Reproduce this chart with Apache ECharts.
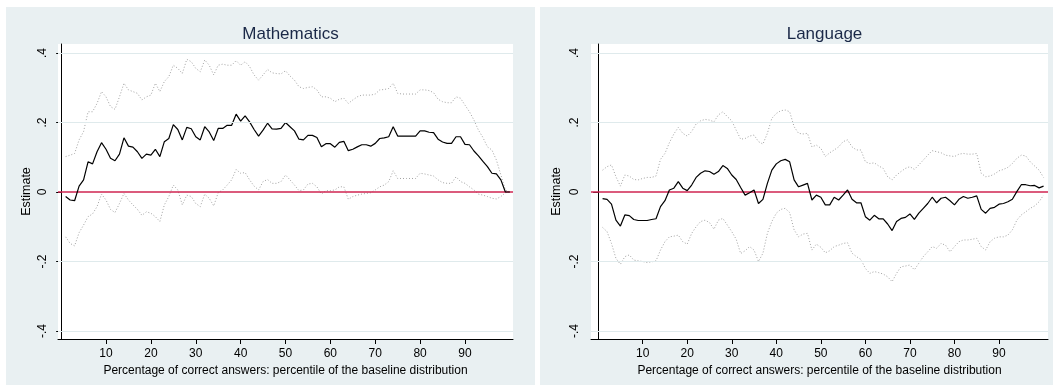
<!DOCTYPE html>
<html>
<head>
<meta charset="utf-8">
<script src="https://cdn.jsdelivr.net/npm/echarts@6/dist/echarts.min.js"></script>
<style>
  html, body { margin: 0; padding: 0; background: #ffffff; }
  #chart { width: 1060px; height: 387px; }
</style>
</head>
<body>
<div id="chart"></div>
<script>
// Percentile of the baseline distribution (x positions of every estimate)
const percentiles = [
  1, 2, 3, 4, 5, 6, 7, 8, 9, 10,
  11, 12, 13, 14, 15, 16, 17, 18, 19, 20,
  21, 22, 23, 24, 25, 26, 27, 28, 29, 30,
  31, 32, 33, 34, 35, 36, 37, 38, 39, 40,
  41, 42, 43, 44, 45, 46, 47, 48, 49, 50,
  51, 52, 53, 54, 55, 56, 57, 58, 59, 60,
  61, 62, 63, 64, 65, 66, 67, 68, 69, 70,
  71, 72, 73, 74, 75, 76, 77, 78, 79, 80,
  81, 82, 83, 84, 85, 86, 87, 88, 89, 90,
  91, 92, 93, 94, 95, 96, 97, 98, 99, 100
];
const xTicks = [10, 20, 30, 40, 50, 60, 70, 80, 90];
const yTicks = [-0.4, -0.2, 0, 0.2, 0.4];

// Mathematics: point estimate and confidence bounds
const mathEst = [
  -0.013, -0.023, -0.025, 0.017, 0.035, 0.087, 0.081, 0.116, 0.142, 0.123,
  0.097, 0.090, 0.109, 0.156, 0.132, 0.129, 0.116, 0.097, 0.109, 0.106,
  0.123, 0.102, 0.145, 0.154, 0.194, 0.180, 0.150, 0.186, 0.182, 0.159,
  0.150, 0.188, 0.173, 0.148, 0.183, 0.183, 0.192, 0.192, 0.224, 0.204,
  0.219, 0.202, 0.180, 0.161, 0.178, 0.198, 0.182, 0.181, 0.183, 0.200,
  0.188, 0.176, 0.152, 0.150, 0.163, 0.163, 0.157, 0.130, 0.139, 0.139,
  0.129, 0.143, 0.146, 0.119, 0.123, 0.130, 0.136, 0.136, 0.132, 0.140,
  0.154, 0.156, 0.159, 0.188, 0.161, 0.161, 0.161, 0.161, 0.161, 0.176,
  0.176, 0.172, 0.171, 0.152, 0.144, 0.140, 0.140, 0.159, 0.159, 0.137,
  0.136, 0.118, 0.104, 0.088, 0.073, 0.054, 0.052, 0.035, 0.000, 0.000
];
const mathHi = [
  0.102, 0.106, 0.111, 0.150, 0.174, 0.231, 0.231, 0.255, 0.289, 0.274,
  0.246, 0.238, 0.274, 0.313, 0.294, 0.289, 0.284, 0.265, 0.274, 0.279,
  0.313, 0.289, 0.318, 0.332, 0.365, 0.356, 0.341, 0.382, 0.375, 0.356,
  0.346, 0.380, 0.365, 0.337, 0.365, 0.368, 0.365, 0.365, 0.378, 0.365,
  0.375, 0.361, 0.337, 0.322, 0.337, 0.353, 0.343, 0.341, 0.340, 0.349,
  0.334, 0.322, 0.303, 0.298, 0.301, 0.303, 0.294, 0.274, 0.274, 0.270,
  0.260, 0.267, 0.270, 0.255, 0.265, 0.274, 0.279, 0.279, 0.279, 0.282,
  0.294, 0.295, 0.298, 0.313, 0.284, 0.282, 0.282, 0.282, 0.282, 0.294,
  0.294, 0.292, 0.286, 0.267, 0.260, 0.257, 0.257, 0.274, 0.270, 0.250,
  0.231, 0.207, 0.178, 0.157, 0.130, 0.121, 0.092, 0.049, 0.006, 0.000
];
const mathLo = [
  -0.129, -0.148, -0.155, -0.117, -0.095, -0.071, -0.063, -0.042, -0.006, -0.023,
  -0.050, -0.059, -0.033, -0.004, -0.023, -0.037, -0.050, -0.067, -0.057, -0.061,
  -0.071, -0.085, -0.037, -0.013, 0.020, 0.006, -0.037, -0.009, -0.013, -0.033,
  -0.042, -0.006, -0.018, -0.040, -0.002, 0.006, 0.020, 0.035, 0.065, 0.054,
  0.056, 0.035, 0.017, 0.006, 0.030, 0.036, 0.025, 0.025, 0.030, 0.049,
  0.035, 0.020, 0.004, 0.006, 0.023, 0.025, 0.015, -0.006, 0.004, 0.004,
  0.006, 0.015, 0.015, -0.021, -0.013, -0.009, -0.006, -0.004, -0.002, 0.006,
  0.015, 0.020, 0.030, 0.061, 0.039, 0.039, 0.039, 0.039, 0.039, 0.054,
  0.052, 0.049, 0.046, 0.035, 0.027, 0.025, 0.025, 0.044, 0.030, 0.025,
  0.015, 0.006, -0.006, -0.009, -0.013, -0.018, -0.020, -0.013, -0.002, 0.000
];

// Language: point estimate and confidence bounds
const langEst = [
  -0.019, -0.021, -0.035, -0.081, -0.098, -0.066, -0.068, -0.079, -0.082, -0.082,
  -0.082, -0.079, -0.077, -0.042, -0.025, 0.006, 0.011, 0.030, 0.011, 0.004,
  0.020, 0.042, 0.054, 0.061, 0.059, 0.051, 0.059, 0.076, 0.068, 0.049,
  0.036, 0.013, -0.009, -0.002, 0.006, -0.033, -0.021, 0.025, 0.063, 0.081,
  0.090, 0.094, 0.087, 0.035, 0.015, 0.020, 0.025, -0.023, -0.009, -0.015,
  -0.037, -0.037, -0.015, -0.023, -0.009, 0.006, -0.021, -0.031, -0.031, -0.071,
  -0.081, -0.067, -0.077, -0.077, -0.092, -0.111, -0.085, -0.076, -0.073, -0.063,
  -0.079, -0.061, -0.047, -0.033, -0.015, -0.031, -0.018, -0.015, -0.025, -0.037,
  -0.021, -0.013, -0.018, -0.015, -0.011, -0.050, -0.061, -0.047, -0.044, -0.035,
  -0.033, -0.028, -0.021, 0.001, 0.021, 0.021, 0.018, 0.019, 0.012, 0.017
];
const langHi = [
  0.063, 0.073, 0.078, 0.044, 0.017, 0.049, 0.046, 0.036, 0.035, 0.039,
  0.042, 0.042, 0.046, 0.094, 0.111, 0.142, 0.167, 0.186, 0.169, 0.161,
  0.174, 0.196, 0.205, 0.209, 0.207, 0.202, 0.222, 0.231, 0.217, 0.205,
  0.178, 0.152, 0.154, 0.161, 0.164, 0.145, 0.138, 0.169, 0.212, 0.226,
  0.234, 0.236, 0.231, 0.188, 0.169, 0.167, 0.169, 0.130, 0.135, 0.126,
  0.102, 0.113, 0.121, 0.130, 0.145, 0.150, 0.130, 0.121, 0.121, 0.087,
  0.082, 0.084, 0.075, 0.068, 0.044, 0.035, 0.049, 0.059, 0.068, 0.073,
  0.065, 0.078, 0.092, 0.106, 0.119, 0.116, 0.113, 0.106, 0.104, 0.102,
  0.109, 0.111, 0.109, 0.109, 0.111, 0.054, 0.044, 0.046, 0.052, 0.061,
  0.065, 0.071, 0.082, 0.097, 0.106, 0.104, 0.087, 0.075, 0.063, 0.042
];
const langLo = [
  -0.102, -0.114, -0.148, -0.191, -0.208, -0.186, -0.181, -0.196, -0.198, -0.200,
  -0.203, -0.201, -0.198, -0.167, -0.143, -0.129, -0.127, -0.124, -0.143, -0.150,
  -0.119, -0.100, -0.085, -0.081, -0.088, -0.107, -0.081, -0.076, -0.095, -0.114,
  -0.136, -0.177, -0.169, -0.157, -0.167, -0.200, -0.176, -0.119, -0.085, -0.061,
  -0.050, -0.047, -0.059, -0.109, -0.129, -0.121, -0.119, -0.167, -0.150, -0.159,
  -0.175, -0.169, -0.157, -0.153, -0.148, -0.146, -0.176, -0.186, -0.194, -0.220,
  -0.234, -0.229, -0.232, -0.236, -0.244, -0.258, -0.234, -0.215, -0.213, -0.210,
  -0.224, -0.205, -0.186, -0.172, -0.157, -0.162, -0.148, -0.153, -0.172, -0.157,
  -0.143, -0.138, -0.138, -0.136, -0.133, -0.157, -0.167, -0.143, -0.133, -0.129,
  -0.129, -0.124, -0.109, -0.081, -0.066, -0.057, -0.047, -0.040, -0.028, -0.009
];

const panelTitles = ['Mathematics', 'Language'];
const panelData = [
  { est: mathEst, lo: mathLo, hi: mathHi },
  { est: langEst, lo: langLo, hi: langHi }
];

// Panel geometry (pixels) and axis extents
const layout = [
  { bgX: 6,   bgW: 529, left: 58,  width: 455, xMin: -0.7, xMax: 100.7, nameGap: 25, labelMargin: 9 },
  { bgX: 540, bgW: 513, left: 591, width: 457, xMin: -1.6, xMax: 101.0, nameGap: 28, labelMargin: 10 }
];
const plotTop = 44, plotHeight = 295;
const yMin = -0.423, yMax = 0.426;

const FONT = '"Liberation Sans", Arial, Helvetica, sans-serif';
const BG = '#E9F0F2';
const GRID_LINE = '#DFEAEC';
const ZERO_LINE = '#CF2550';
const INK = '#000000';

const pairs = (ys) => percentiles.map((x, i) => [x, ys[i]]);
const fmtY = (v) => (v === 0 ? '0' : v.toFixed(1).replace('0.', '.'));

const grids = [], xAxes = [], yAxes = [], titles = [], series = [], graphics = [];

layout.forEach((L, k) => {
  graphics.push({
    type: 'rect', z: -10, silent: true,
    shape: { x: L.bgX, y: 7, width: L.bgW, height: 378 },
    style: { fill: BG }
  });
  grids.push({
    left: L.left, top: plotTop, width: L.width, height: plotHeight,
    show: true, backgroundColor: '#ffffff', borderWidth: 0
  });
  titles.push({
    text: panelTitles[k],
    left: L.left + L.width / 2, top: 21, textAlign: 'center',
    textStyle: { fontFamily: FONT, fontSize: 17, fontWeight: 'normal', color: '#1A2847' }
  });
  xAxes.push({
    type: 'value', gridIndex: k, min: L.xMin, max: L.xMax,
    name: 'Percentage of correct answers: percentile of the baseline distribution',
    nameLocation: 'middle', nameGap: 24,
    nameTextStyle: { fontFamily: FONT, fontSize: 12, color: INK },
    axisLine: { show: true, onZero: false, lineStyle: { color: '#000', width: 1 } },
    axisTick: { show: true, length: 5, customValues: xTicks, lineStyle: { color: '#000' } },
    axisLabel: { show: true, margin: 9, customValues: xTicks, fontFamily: FONT, fontSize: 12, color: INK },
    splitLine: { show: false }
  });
  yAxes.push({
    type: 'value', gridIndex: k, min: yMin, max: yMax,
    name: 'Estimate', nameLocation: 'middle', nameRotate: 90, nameGap: L.nameGap,
    nameTextStyle: { fontFamily: FONT, fontSize: 12.5, color: INK },
    axisLine: { show: true, lineStyle: { color: '#000', width: 1 } },
    axisTick: { show: true, length: 5, customValues: yTicks, lineStyle: { color: '#000' } },
    axisLabel: {
      show: true, rotate: 90, margin: L.labelMargin, customValues: yTicks,
      formatter: fmtY, fontFamily: FONT, fontSize: 12, color: INK
    },
    splitLine: { show: false }
  });

  const d = panelData[k];
  const dotted = { color: '#A2A2A2', width: 1, type: [1, 2] };
  series.push({
    type: 'line', xAxisIndex: k, yAxisIndex: k, data: pairs(d.hi),
    symbol: 'none', lineStyle: dotted, z: 2, silent: true,
    markLine: {
      silent: true, symbol: 'none', label: { show: false },
      lineStyle: { color: GRID_LINE, width: 1, type: 'solid' },
      data: yTicks.filter(v => v !== 0).map(v => ({ yAxis: v }))
    }
  });
  series.push({
    type: 'line', xAxisIndex: k, yAxisIndex: k, data: pairs(d.lo),
    symbol: 'none', lineStyle: dotted, z: 2, silent: true
  });
  series.push({
    type: 'line', xAxisIndex: k, yAxisIndex: k, data: pairs(d.est),
    symbol: 'none', lineStyle: { color: '#000', width: 1.2 }, z: 4, silent: true,
    markLine: {
      silent: true, symbol: 'none', label: { show: false }, z: 3,
      lineStyle: { color: ZERO_LINE, width: 1.6, type: 'solid' },
      data: [{ yAxis: 0 }]
    }
  });
});

const chart = echarts.init(document.getElementById('chart'), null, { renderer: 'canvas' });
chart.setOption({
  animation: false,
  backgroundColor: '#ffffff',
  title: titles,
  grid: grids,
  xAxis: xAxes,
  yAxis: yAxes,
  series: series,
  graphic: graphics
});
</script>
</body>
</html>
